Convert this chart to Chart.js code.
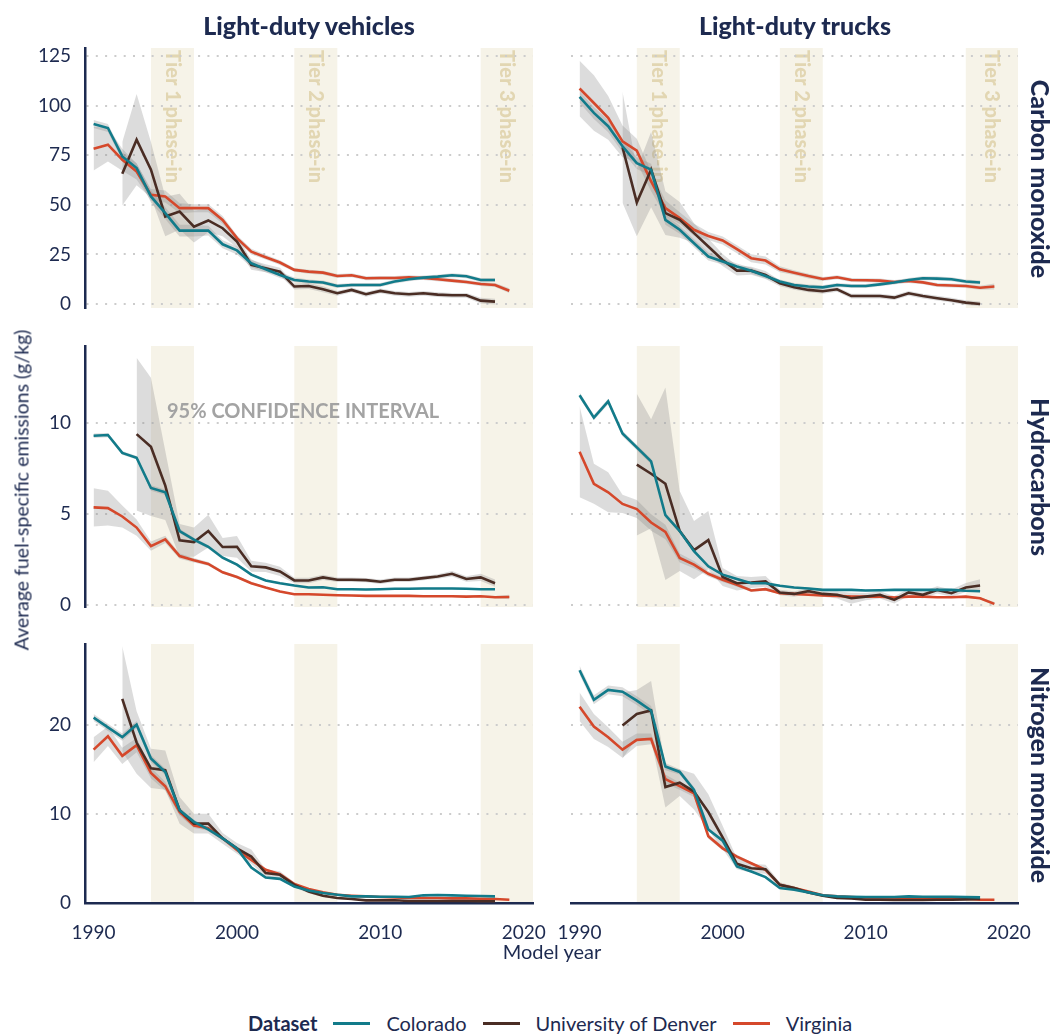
<!DOCTYPE html>
<html>
<head>
<meta charset="utf-8">
<script src="https://cdn.jsdelivr.net/npm/chart.js@4.4.1/dist/chart.umd.min.js"></script>
<style>
body { margin: 0; background: #fff; }
#wrap { position: relative; width: 1056px; height: 1035px; font-family: Lato, "Open Sans", sans-serif; color: #1d2a50; overflow: hidden; }
canvas { position: absolute; }
.coltitle { position: absolute; top: 10px; width: 400px; text-align: center; font-weight: 900; font-size: 25px; line-height: 30px; }
.rowtitle { position: absolute; white-space: nowrap; font-weight: 900; font-size: 25px; transform: translate(-50%, -50%) rotate(90deg); }
#ytitle { position: absolute; left: 21px; top: 490px; white-space: nowrap; font-size: 19.5px; transform: translate(-50%, -50%) rotate(-90deg); }
#xtitle { position: absolute; left: 552px; top: 951px; white-space: nowrap; font-size: 20px; transform: translate(-50%, -50%); }
#ci { position: absolute; left: 167px; top: 410px; white-space: nowrap; font-size: 20px; font-weight: 700; color: #a3a3a3; transform: translateY(-50%); }
#legend { position: absolute; left: 248px; top: 1010px; height: 26px; display: flex; align-items: center; gap: 16px; font-size: 20px; white-space: nowrap; }
#legend .sw { display: inline-block; width: 37px; height: 3px; }
#legend .head { font-weight: 700; }
</style>
</head>
<body>
<div id="wrap">
  <div class="coltitle" style="left:109px">Light-duty vehicles</div>
  <div class="coltitle" style="left:595px">Light-duty trucks</div>
  <div class="rowtitle" style="left:1041px; top:179px">Carbon monoxide</div>
  <div class="rowtitle" style="left:1041px; top:477px">Hydrocarbons</div>
  <div class="rowtitle" style="left:1041px; top:775px">Nitrogen monoxide</div>
  <div id="ytitle">Average fuel-specific emissions (g/kg)</div>
  <div id="xtitle">Model year</div>
  <div id="ci">95% CONFIDENCE INTERVAL</div>
  <div id="legend"></div>
</div>
<script>
const modelYears = [1990, 1991, 1992, 1993, 1994, 1995, 1996, 1997, 1998, 1999,
                    2000, 2001, 2002, 2003, 2004, 2005, 2006, 2007, 2008, 2009,
                    2010, 2011, 2012, 2013, 2014, 2015, 2016, 2017, 2018, 2019];
const seriesNames = ["Colorado", "University of Denver", "Virginia"];
const seriesColors = ["#127b8a", "#4a2d24", "#d5482b"];
const tierSpans = [[1994, 1997], [2004, 2007], [2017, 2021]];
const tierLabels = ["Tier 1 phase-in", "Tier 2 phase-in", "Tier 3 phase-in"];
const xTickValues = [1990, 2000, 2010, 2020];
const yTickValues = [[0, 25, 50, 75, 100, 125], [0, 5, 10], [0, 10, 20]];

// Carbon monoxide, light-duty vehicles
const coLdvColorado = [90.7, 88.7, 74.4, 68.5, 54.2, 45.8, 37, 37, 37, 30.1, 27, 20.5, 17.5, 14.6, 12.1, 11.3, 10.8, 9.1, 9.6, 9.6, 9.6, 11.3, 12.5, 13.3, 13.8, 14.5, 14, 12.1, 12.1, null];
const coLdvColoradoErr = [2, 2, 2, 2.5, 3, 3, 3, 3, 2.5, 2, 2, 2, 1.5, 1.5, 1.2, 1, 1, 1, 1, 1, 1, 1, 1, 1, 1, 1, 1, 1, 1, null];
const coLdvDenver = [null, null, 65.7, 82.8, 67.7, 44.1, 46.6, 39, 42.1, 38.2, 31.5, 19.7, 18, 16.3, 8.8, 9.1, 7.4, 5.4, 7.1, 4.9, 6.6, 5.4, 4.9, 5.4, 4.7, 4.4, 4.4, 1.7, 1.2, null];
const coLdvDenverErr = [null, null, 16, 23, 14, 10, 9, 8, 6, 4, 3, 2.5, 2, 2, 1.5, 1.5, 1.5, 1.2, 1.2, 1.2, 1.2, 1.2, 1.2, 1.2, 1.2, 1.2, 1.2, 1.5, 1.5, null];
const coLdvVirginia = [78.3, 80.3, 72.7, 66.8, 55, 54.2, 48.3, 48.3, 48.3, 42.4, 33.2, 26.4, 23.6, 20.9, 17.2, 16.3, 15.8, 14.1, 14.5, 13, 13.1, 13.1, 13.5, 13.1, 12.5, 11.8, 11.1, 10.1, 9.6, 6.7];
const coLdvVirginiaErr = [11, 8.5, 5.5, 4, 3, 3, 2.5, 2, 2, 2, 1.5, 1.5, 1.2, 1.2, 1, 1, 1, 1, 1, 1, 1, 1, 1, 1, 1, 1, 1, 1, 1, 1.2];

// Carbon monoxide, light-duty trucks
const coLdtColorado = [104.4, 96.3, 89.6, 79.5, 71, 67.7, 42.4, 37.4, 30.6, 23.9, 21.4, 18.9, 16.8, 14.1, 11.3, 9.6, 8.8, 8.4, 9.6, 9.1, 9.1, 9.9, 10.8, 12.1, 13, 12.8, 12.5, 11.3, 10.8, null];
const coLdtColoradoErr = [3, 3, 3, 3, 3, 3, 2.5, 2, 2, 2, 1.5, 1.5, 1.5, 1.2, 1, 1, 1, 1, 1, 1, 1, 1, 1, 1, 1, 1, 1, 1, 1, null];
const coLdtDenver = [null, null, null, 79, 51.2, 67.7, 45.8, 42.4, 35.7, 29, 22.2, 16.8, 16.8, 14.6, 10.4, 8.4, 7.1, 6.4, 7.4, 4, 4, 4, 3.2, 5.4, 4, 2.9, 1.9, 0.7, 0, null];
const coLdtDenverErr = [null, null, null, 28, 17, 19, 11, 9, 5, 4, 3, 2.5, 2, 2, 1.5, 1.2, 1.2, 1.2, 1.2, 1.2, 1.2, 1.2, 1.2, 1.2, 1.2, 1.2, 1.2, 1.2, 1.2, null];
const coLdtVirginia = [108.6, 101.3, 93.8, 82, 77.3, 61.8, 48.3, 43.3, 37.4, 34.3, 32, 27.6, 23.1, 21.9, 17.5, 15.8, 14.1, 12.6, 13.5, 12.1, 12, 11.8, 11.1, 11.6, 10.9, 9.6, 9.3, 9.1, 8.2, 8.8];
const coLdtVirginiaErr = [14, 14, 11, 8, 6, 5, 4, 3, 3, 2, 2, 2, 2, 2, 1.5, 1.2, 1.2, 1, 1, 1, 1, 1, 1, 1, 1, 1, 1, 1, 1, 1.5];

// Hydrocarbons, light-duty vehicles
const hcLdvColorado = [9.31, 9.35, 8.37, 8.1, 6.44, 6.2, 4.07, 3.6, 3.2, 2.6, 2.22, 1.67, 1.35, 1.2, 1.07, 0.96, 0.98, 0.87, 0.87, 0.85, 0.87, 0.89, 0.89, 0.91, 0.91, 0.91, 0.89, 0.87, 0.87, null];
const hcLdvColoradoErr = [0.12, 0.12, 0.1, 0.1, 0.15, 0.15, 0.12, 0.1, 0.1, 0.08, 0.08, 0.06, 0.05, 0.05, 0.05, 0.05, 0.05, 0.05, 0.05, 0.05, 0.05, 0.05, 0.05, 0.05, 0.05, 0.05, 0.05, 0.05, 0.05, null];
const hcLdvDenver = [null, null, null, 9.4, 8.7, 6.57, 3.56, 3.46, 4.07, 3.19, 3.2, 2.13, 2.07, 1.85, 1.35, 1.35, 1.52, 1.39, 1.39, 1.37, 1.28, 1.39, 1.39, 1.48, 1.57, 1.72, 1.43, 1.52, 1.2, null];
const hcLdvDenverErr = [null, null, null, 4.2, 3.8, 1.9, 0.9, 0.8, 0.9, 0.5, 0.6, 0.3, 0.25, 0.25, 0.15, 0.15, 0.15, 0.12, 0.12, 0.12, 0.12, 0.12, 0.12, 0.12, 0.12, 0.15, 0.15, 0.2, 0.2, null];
const hcLdvVirginia = [5.37, 5.33, 4.87, 4.26, 3.24, 3.61, 2.69, 2.46, 2.26, 1.8, 1.54, 1.2, 0.96, 0.74, 0.59, 0.59, 0.56, 0.54, 0.52, 0.5, 0.5, 0.5, 0.5, 0.48, 0.48, 0.48, 0.46, 0.48, 0.43, 0.44];
const hcLdvVirginiaErr = [1.05, 0.95, 0.6, 0.45, 0.25, 0.2, 0.15, 0.12, 0.1, 0.08, 0.08, 0.06, 0.05, 0.05, 0.04, 0.04, 0.04, 0.04, 0.04, 0.04, 0.04, 0.04, 0.04, 0.04, 0.04, 0.04, 0.04, 0.04, 0.06, 0.12];

// Hydrocarbons, light-duty trucks
const hcLdtColorado = [11.54, 10.31, 11.2, 9.44, 8.67, 7.9, 4.94, 4.07, 2.96, 2.13, 1.67, 1.43, 1.2, 1.2, 1.06, 0.96, 0.91, 0.83, 0.83, 0.83, 0.8, 0.81, 0.83, 0.83, 0.83, 0.83, 0.83, 0.78, 0.76, null];
const hcLdtColoradoErr = [0.15, 0.15, 0.15, 0.15, 0.15, 0.15, 0.12, 0.1, 0.1, 0.08, 0.06, 0.05, 0.05, 0.05, 0.05, 0.05, 0.05, 0.05, 0.05, 0.05, 0.05, 0.05, 0.05, 0.05, 0.05, 0.05, 0.05, 0.05, 0.05, null];
const hcLdtDenver = [null, null, null, null, 7.72, 7.22, 6.67, 4.07, 3.02, 3.57, 1.54, 1.2, 1.24, 1.3, 0.69, 0.61, 0.76, 0.61, 0.56, 0.37, 0.46, 0.56, 0.28, 0.69, 0.56, 0.83, 0.65, 0.96, 1.07, null];
const hcLdtDenverErr = [null, null, null, null, 3.9, 3, 5.3, 2.2, 1.6, 1.6, 0.5, 0.4, 0.3, 0.3, 0.15, 0.15, 0.15, 0.15, 0.2, 0.3, 0.2, 0.2, 0.2, 0.2, 0.2, 0.2, 0.2, 0.25, 0.35, null];
const hcLdtVirginia = [8.43, 6.67, 6.2, 5.56, 5.28, 4.54, 4.02, 2.59, 2.22, 1.72, 1.39, 1.11, 0.8, 0.87, 0.65, 0.61, 0.56, 0.52, 0.5, 0.46, 0.46, 0.46, 0.41, 0.46, 0.46, 0.43, 0.43, 0.46, 0.37, 0.06];
const hcLdtVirginiaErr = [2.5, 1.1, 1.1, 0.5, 0.5, 0.45, 0.4, 0.25, 0.2, 0.15, 0.12, 0.1, 0.08, 0.08, 0.06, 0.06, 0.05, 0.05, 0.05, 0.05, 0.05, 0.05, 0.05, 0.05, 0.05, 0.05, 0.05, 0.05, 0.06, 0.1];

// Nitrogen monoxide, light-duty vehicles
const noLdvColorado = [20.8, 19.7, 18.6, 20, 16.2, 14.7, 10.4, 9.1, 8.25, 7.25, 6.13, 3.98, 2.86, 2.71, 1.86, 1.41, 1.12, 0.93, 0.74, 0.74, 0.7, 0.7, 0.67, 0.86, 0.89, 0.86, 0.82, 0.78, 0.74, null];
const noLdvColoradoErr = [0.4, 0.4, 0.4, 0.4, 0.4, 0.35, 0.3, 0.25, 0.2, 0.2, 0.15, 0.12, 0.1, 0.1, 0.08, 0.06, 0.05, 0.05, 0.05, 0.05, 0.05, 0.05, 0.05, 0.05, 0.05, 0.05, 0.05, 0.05, 0.05, null];
const noLdvDenver = [null, null, 22.9, 18, 15.1, 14.9, 10.4, 8.9, 8.9, 7.25, 6.13, 5.2, 3.35, 3.16, 2.04, 1.3, 0.82, 0.56, 0.45, 0.3, 0.3, 0.3, 0.22, 0.22, 0.22, 0.22, 0.22, 0.19, 0.19, null];
const noLdvDenverErr = [null, null, 5.9, 3.5, 2.2, 2.2, 1.5, 1.1, 1.1, 0.6, 0.6, 0.8, 0.4, 0.4, 0.3, 0.2, 0.15, 0.12, 0.1, 0.1, 0.1, 0.1, 0.1, 0.1, 0.1, 0.1, 0.1, 0.1, 0.1, null];
const noLdvVirginia = [17.2, 18.7, 16.5, 17.7, 14.6, 13.1, 10.2, 8.7, 8.4, 7.25, 5.95, 4.83, 3.72, 3.23, 2.12, 1.56, 1.19, 0.93, 0.82, 0.74, 0.67, 0.63, 0.56, 0.56, 0.56, 0.52, 0.52, 0.48, 0.45, 0.37];
const noLdvVirginiaErr = [1.4, 1.1, 0.9, 0.8, 0.6, 0.5, 0.4, 0.3, 0.3, 0.2, 0.2, 0.15, 0.15, 0.12, 0.1, 0.08, 0.08, 0.06, 0.06, 0.05, 0.05, 0.05, 0.05, 0.05, 0.05, 0.05, 0.05, 0.05, 0.05, 0.08];

// Nitrogen monoxide, light-duty trucks
const noLdtColorado = [26.1, 22.8, 23.9, 23.7, 22.7, 21.6, 15.3, 14.7, 12.7, 8.25, 6.99, 4.09, 3.53, 2.9, 1.67, 1.49, 1.19, 0.86, 0.74, 0.7, 0.67, 0.67, 0.67, 0.74, 0.7, 0.7, 0.7, 0.67, 0.63, null];
const noLdtColoradoErr = [0.5, 0.5, 0.5, 0.5, 0.5, 0.5, 0.4, 0.3, 0.3, 0.2, 0.15, 0.12, 0.1, 0.1, 0.08, 0.06, 0.05, 0.05, 0.05, 0.05, 0.05, 0.05, 0.05, 0.05, 0.05, 0.05, 0.05, 0.05, 0.05, null];
const noLdtDenver = [null, null, null, 19.9, 21.2, 21.6, 13, 13.5, 12.5, 10.2, 7.36, 4.39, 3.9, 3.79, 2.04, 1.67, 1.19, 0.82, 0.56, 0.52, 0.37, 0.37, 0.33, 0.33, 0.33, 0.37, 0.37, 0.41, 0.45, null];
const noLdtDenverErr = [null, null, null, 3.7, 2.7, 3.3, 2.3, 1.5, 2, 2, 1.3, 0.6, 0.5, 0.5, 0.3, 0.2, 0.15, 0.12, 0.1, 0.1, 0.1, 0.1, 0.1, 0.1, 0.1, 0.1, 0.1, 0.1, 0.1, null];
const noLdtVirginia = [22, 19.8, 18.6, 17.2, 18.3, 18.4, 13.9, 13.1, 12.3, 7.5, 6.13, 5.2, 4.46, 3.72, 2.04, 1.67, 1.3, 0.86, 0.74, 0.67, 0.59, 0.56, 0.52, 0.52, 0.52, 0.48, 0.48, 0.48, 0.37, 0.37];
const noLdtVirginiaErr = [1.6, 1.4, 1.1, 0.9, 0.7, 0.6, 0.5, 0.4, 0.4, 0.3, 0.2, 0.2, 0.15, 0.15, 0.1, 0.08, 0.08, 0.06, 0.05, 0.05, 0.05, 0.05, 0.05, 0.05, 0.05, 0.05, 0.05, 0.05, 0.05, 0.08];

const panels = [
    { row: 0, col: 0, vals: [coLdvColorado, coLdvDenver, coLdvVirginia], errs: [coLdvColoradoErr, coLdvDenverErr, coLdvVirginiaErr] },
    { row: 0, col: 1, vals: [coLdtColorado, coLdtDenver, coLdtVirginia], errs: [coLdtColoradoErr, coLdtDenverErr, coLdtVirginiaErr] },
    { row: 1, col: 0, vals: [hcLdvColorado, hcLdvDenver, hcLdvVirginia], errs: [hcLdvColoradoErr, hcLdvDenverErr, hcLdvVirginiaErr] },
    { row: 1, col: 1, vals: [hcLdtColorado, hcLdtDenver, hcLdtVirginia], errs: [hcLdtColoradoErr, hcLdtDenverErr, hcLdtVirginiaErr] },
    { row: 2, col: 0, vals: [noLdvColorado, noLdvDenver, noLdvVirginia], errs: [noLdvColoradoErr, noLdvDenverErr, noLdvVirginiaErr] },
    { row: 2, col: 1, vals: [noLdtColorado, noLdtDenver, noLdtVirginia], errs: [noLdtColoradoErr, noLdtDenverErr, noLdtVirginiaErr] }
];

// layout: plot area positions on the page
const rowTop = [48, 346, 644];
const rowHeight = [260, 261, 259];
const yMin = [-2.02, -0.11, 0];
const yMax = [129.03, 14.25, 29.05];
const navy = "#1d2a50";

Chart.defaults.font.family = "Lato, 'Open Sans', sans-serif";
Chart.defaults.color = navy;

const tierPlugin =
{
    id: "tiers",
    beforeDraw(chart, args, opts)
    {
        const { ctx, chartArea: a, scales: { x } } = chart;
        tierSpans.forEach((s, i) =>
        {
            const x0 = x.getPixelForValue(s[0]);
            const x1 = Math.min(x.getPixelForValue(s[1]), a.right);
            ctx.save();
            ctx.fillStyle = "#f6f3e8";
            ctx.fillRect(x0, a.top, x1 - x0, a.bottom - a.top);
            if (opts.labels)
            {
                ctx.translate((x0 + x1) / 2, a.top + 2);
                ctx.rotate(Math.PI / 2);
                ctx.fillStyle = "#e2d6b2";
                ctx.font = "900 20px Lato";
                ctx.textAlign = "left";
                ctx.textBaseline = "middle";
                ctx.fillText(tierLabels[i], 0, 0);
            }
            ctx.restore();
        });
    }
};

function points(vals, errs, sign)
{
    const out = [];
    modelYears.forEach((yr, i) =>
    {
        if (vals[i] == null) return;
        out.push({ x: yr, y: vals[i] + sign * (errs ? errs[i] : 0) });
    });
    return out;
}

const wrap = document.getElementById("wrap");

panels.forEach(p =>
{
    const left = p.col === 0;
    const bottom = p.row === 2;
    const padL = left ? 0 : 26;
    const padR = 26;
    const yWidth = left ? 85 : 0;
    const padT = 28;
    const xHeight = 45;
    const w = left ? 533 + padR : padL + 447 + padR;
    const h = padT + rowHeight[p.row] + (bottom ? xHeight : padT);

    const canvas = document.createElement("canvas");
    canvas.width = w;
    canvas.height = h;
    canvas.style.left = (left ? 0 : 571 - padL) + "px";
    canvas.style.top = (rowTop[p.row] - padT) + "px";
    wrap.insertBefore(canvas, wrap.firstChild);

    const datasets = [];
    p.vals.forEach((v, k) =>
    {
        datasets.push({
            data: points(v, null, 0),
            borderColor: seriesColors[k],
            borderWidth: 2.6,
            pointRadius: 0,
            fill: false,
            tension: 0
        });
    });
    p.vals.forEach((v, k) =>
    {
        datasets.push({ data: points(v, p.errs[k], -1), borderWidth: 0, pointRadius: 0, fill: false });
        datasets.push({ data: points(v, p.errs[k], 1), borderWidth: 0, pointRadius: 0, fill: "-1", backgroundColor: "rgba(140,140,140,0.3)" });
    });

    new Chart(canvas,
    {
        type: "line",
        data: { datasets: datasets },
        plugins: [tierPlugin],
        options:
        {
            responsive: false,
            animation: false,
            devicePixelRatio: 1,
            events: [],
            layout: { padding: { left: padL, right: padR, top: padT, bottom: bottom ? 0 : padT } },
            plugins:
            {
                legend: { display: false },
                tooltip: { enabled: false },
                tiers: { labels: p.row === 0 }
            },
            scales:
            {
                x:
                {
                    type: "linear",
                    min: 1989.4,
                    max: 2020.65,
                    display: bottom,
                    afterBuildTicks: s => { s.ticks = xTickValues.map(v => ({ value: v })); },
                    afterFit: s => { s.height = bottom ? xHeight : 0; },
                    grid: { display: false },
                    border: { display: true, color: navy, width: 2.5 },
                    ticks: { font: { size: 19 }, padding: 10, maxRotation: 0, color: navy, callback: v => String(v) }
                },
                y:
                {
                    min: yMin[p.row],
                    max: yMax[p.row],
                    afterBuildTicks: s => { s.ticks = yTickValues[p.row].map(v => ({ value: v })); },
                    afterFit: s => { s.width = yWidth; },
                    grid: { color: "#cccccc", lineWidth: 2, drawTicks: false },
                    border: { display: left, color: navy, width: 2.5, dash: [2, 7.3] },
                    ticks: { display: left, font: { size: 19 }, padding: 14, color: navy }
                }
            }
        }
    });
});

const legend = document.getElementById("legend");
let html = '<span class="head">Dataset</span>';
seriesNames.forEach((n, k) =>
{
    html += '<span class="sw" style="background:' + seriesColors[k] + '"></span><span>' + n + '</span>';
});
legend.innerHTML = html;
</script>
</body>
</html>
